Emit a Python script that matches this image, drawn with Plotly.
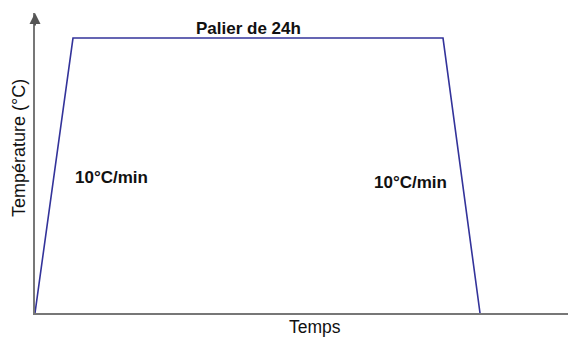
import plotly.graph_objects as go

# Thermal cycle: heating ramp, 24h dwell, cooling ramp (schematic, arbitrary units)
temps = [0.0, 0.713, 7.655, 8.349]          # time axis (arb. units)
temperature = [0.0, 1.0, 1.0, 0.0]           # normalised temperature
x_range = [0, 10]
y_range = [0, 1.091]

dwell_label = "Palier de 24h"
ramp_up_label = "10°C/min"
ramp_down_label = "10°C/min"
x_title = "Temps"
y_title = "Température (°C)"

FONT = "Liberation Sans, Arial, sans-serif"
AXIS_COLOR = "#777777"
LINE_COLOR = "#33339a"

fig = go.Figure()
fig.add_trace(go.Scatter(
    x=temps, y=temperature, mode="lines",
    line=dict(color=LINE_COLOR, width=1.6),
    hoverinfo="skip", showlegend=False,
))

fig.update_layout(
    width=568, height=338,
    margin=dict(l=35, r=0, t=13, b=25),
    paper_bgcolor="white", plot_bgcolor="white",
    font=dict(family=FONT, size=17, color="#111111"),
    xaxis=dict(range=x_range, showgrid=False, zeroline=False, showticklabels=False,
               ticks="", showline=True, linecolor=AXIS_COLOR, linewidth=2),
    yaxis=dict(range=y_range, showgrid=False, zeroline=False, showticklabels=False,
               ticks="", showline=True, linecolor=AXIS_COLOR, linewidth=2),
)

annotations = [
    # arrowhead on the temperature axis
    dict(x=0, y=1, xref="x", yref="paper", text="", showarrow=True,
         ax=0, ay=14, axref="pixel", ayref="pixel", arrowhead=2, arrowsize=1.1,
         arrowwidth=2, arrowcolor="#555555"),
    dict(x=4.01, y=1.036, xref="x", yref="y", text=f"<b>{dwell_label}</b>",
         showarrow=False, xanchor="center", yanchor="middle"),
    dict(x=1.426, y=0.491, xref="x", yref="y", text=f"<b>{ramp_up_label}</b>",
         showarrow=False, xanchor="center", yanchor="middle"),
    dict(x=7.04, y=0.473, xref="x", yref="y", text=f"<b>{ramp_down_label}</b>",
         showarrow=False, xanchor="center", yanchor="middle"),
    dict(x=0.525, y=-0.047, xref="paper", yref="paper", text=x_title,
         font=dict(size=17.5), borderpad=0, showarrow=False,
         xanchor="center", yanchor="middle"),
    dict(x=-0.030, y=0.55, xref="paper", yref="paper", text=y_title,
         font=dict(size=18), textangle=-90, showarrow=False,
         xanchor="center", yanchor="middle"),
]
fig.update_layout(annotations=annotations)

fig.write_html("out.html")
